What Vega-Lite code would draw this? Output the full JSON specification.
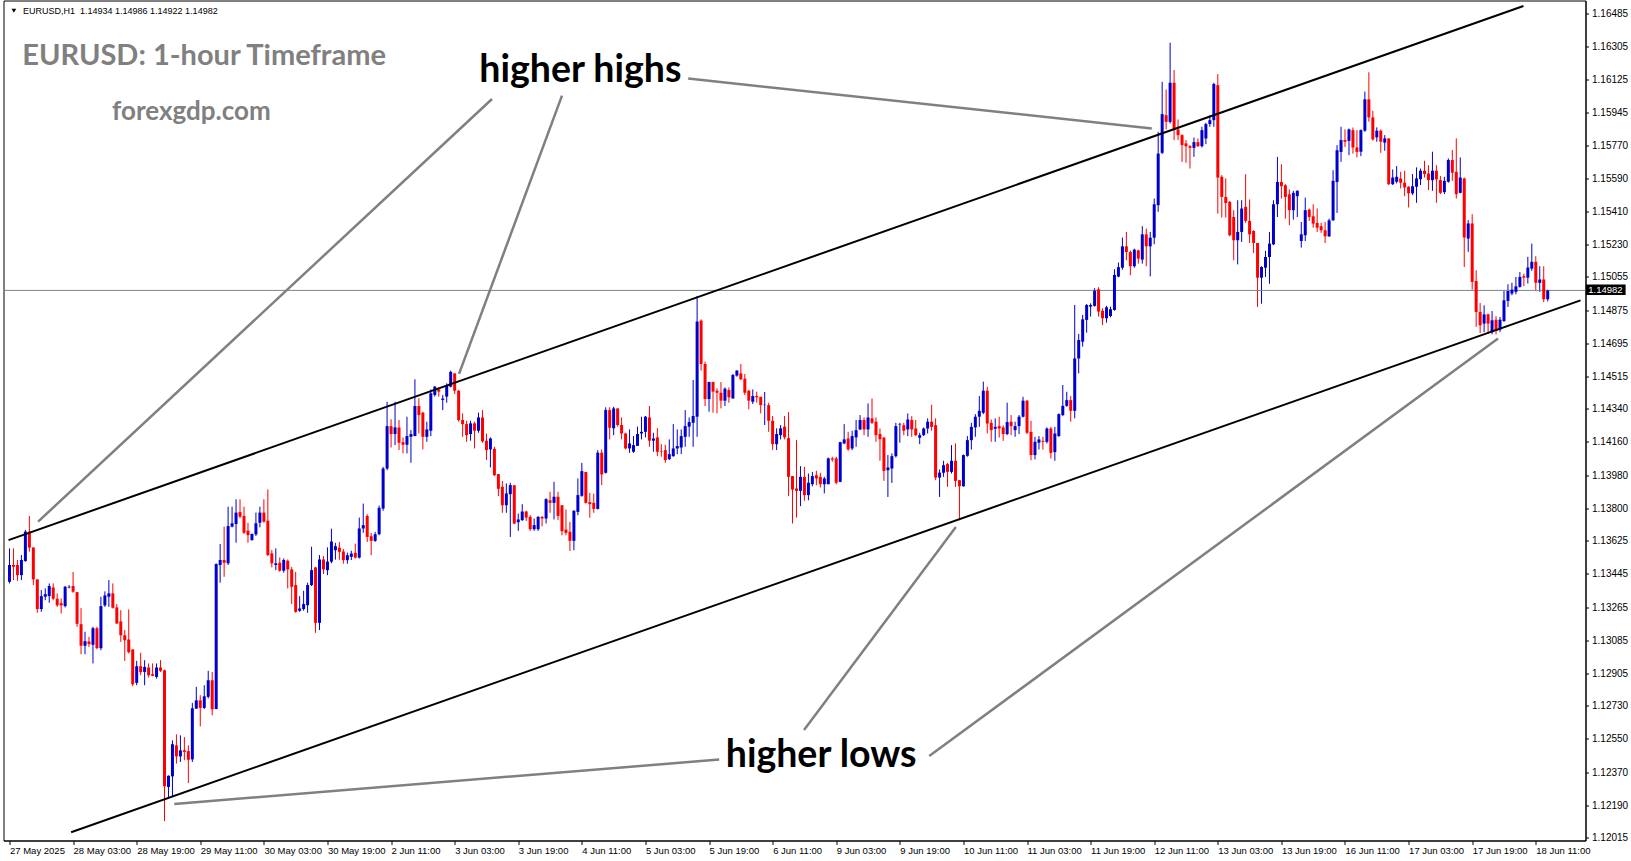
{
"$schema":"https://vega.github.io/schema/vega-lite/v6.json",
"width":1582,"height":840,
"padding":{"left":2.5,"top":0.5,"right":0,"bottom":0},
"background":"white",
"config":{"view":{"stroke":"#000000","strokeWidth":1},"axis":{"grid":false}},
"datasets":{
"candles":[
{"i":0,"o":1.13402,"h":1.13583,"l":1.13393,"c":1.13493},
{"i":1,"o":1.13493,"h":1.13583,"l":1.13411,"c":1.13483},
{"i":2,"o":1.13493,"h":1.13520,"l":1.13407,"c":1.13438},
{"i":3,"o":1.13438,"h":1.13547,"l":1.13411,"c":1.13520},
{"i":4,"o":1.13514,"h":1.13683,"l":1.13511,"c":1.13674},
{"i":5,"o":1.13674,"h":1.13759,"l":1.13565,"c":1.13587},
{"i":6,"o":1.13588,"h":1.13588,"l":1.13384,"c":1.13415},
{"i":7,"o":1.13415,"h":1.13415,"l":1.13234,"c":1.13254},
{"i":8,"o":1.13254,"h":1.13357,"l":1.13239,"c":1.13324},
{"i":9,"o":1.13321,"h":1.13366,"l":1.13302,"c":1.13335},
{"i":10,"o":1.13324,"h":1.13393,"l":1.13288,"c":1.13379},
{"i":11,"o":1.13371,"h":1.13393,"l":1.13302,"c":1.13310},
{"i":12,"o":1.13310,"h":1.13339,"l":1.13266,"c":1.13274},
{"i":13,"o":1.13286,"h":1.13312,"l":1.13230,"c":1.13274},
{"i":14,"o":1.13270,"h":1.13379,"l":1.13263,"c":1.13375},
{"i":15,"o":1.13371,"h":1.13384,"l":1.13366,"c":1.13375},
{"i":16,"o":1.13379,"h":1.13455,"l":1.13342,"c":1.13348},
{"i":17,"o":1.13346,"h":1.13346,"l":1.13158,"c":1.13174},
{"i":18,"o":1.13172,"h":1.13259,"l":1.13009,"c":1.13055},
{"i":19,"o":1.13055,"h":1.13131,"l":1.13009,"c":1.13080},
{"i":20,"o":1.13078,"h":1.13103,"l":1.13049,"c":1.13064},
{"i":21,"o":1.13060,"h":1.13158,"l":1.12959,"c":1.13150},
{"i":22,"o":1.13150,"h":1.13158,"l":1.13036,"c":1.13042},
{"i":23,"o":1.13042,"h":1.13321,"l":1.13031,"c":1.13270},
{"i":24,"o":1.13274,"h":1.13350,"l":1.13266,"c":1.13328},
{"i":25,"o":1.13321,"h":1.13411,"l":1.13266,"c":1.13339},
{"i":26,"o":1.13339,"h":1.13393,"l":1.13257,"c":1.13261},
{"i":27,"o":1.13263,"h":1.13281,"l":1.13172,"c":1.13176},
{"i":28,"o":1.13187,"h":1.13248,"l":1.13076,"c":1.13112},
{"i":29,"o":1.13112,"h":1.13140,"l":1.12973,"c":1.13085},
{"i":30,"o":1.13089,"h":1.13252,"l":1.13013,"c":1.13020},
{"i":31,"o":1.13035,"h":1.13035,"l":1.12836,"c":1.12846},
{"i":32,"o":1.12854,"h":1.12973,"l":1.12841,"c":1.12944},
{"i":33,"o":1.12944,"h":1.13017,"l":1.12895,"c":1.12912},
{"i":34,"o":1.12913,"h":1.12977,"l":1.12841,"c":1.12940},
{"i":35,"o":1.12937,"h":1.12959,"l":1.12883,"c":1.12895},
{"i":36,"o":1.12901,"h":1.12959,"l":1.12890,"c":1.12892},
{"i":37,"o":1.12886,"h":1.12959,"l":1.12877,"c":1.12937},
{"i":38,"o":1.12937,"h":1.12977,"l":1.12913,"c":1.12919},
{"i":39,"o":1.12922,"h":1.12926,"l":1.12104,"c":1.12293},
{"i":40,"o":1.12289,"h":1.12352,"l":1.12235,"c":1.12350},
{"i":41,"o":1.12347,"h":1.12542,"l":1.12235,"c":1.12521},
{"i":42,"o":1.12515,"h":1.12575,"l":1.12416,"c":1.12455},
{"i":43,"o":1.12455,"h":1.12569,"l":1.12425,"c":1.12488},
{"i":44,"o":1.12488,"h":1.12560,"l":1.12434,"c":1.12479},
{"i":45,"o":1.12484,"h":1.12515,"l":1.12311,"c":1.12437},
{"i":46,"o":1.12439,"h":1.12745,"l":1.12425,"c":1.12716},
{"i":47,"o":1.12714,"h":1.12832,"l":1.12714,"c":1.12759},
{"i":48,"o":1.12759,"h":1.12787,"l":1.12618,"c":1.12718},
{"i":49,"o":1.12718,"h":1.12841,"l":1.12712,"c":1.12781},
{"i":50,"o":1.12778,"h":1.12919,"l":1.12769,"c":1.12868},
{"i":51,"o":1.12868,"h":1.12913,"l":1.12678,"c":1.12711},
{"i":52,"o":1.12712,"h":1.13502,"l":1.12711,"c":1.13498},
{"i":53,"o":1.13493,"h":1.13607,"l":1.13397,"c":1.13520},
{"i":54,"o":1.13520,"h":1.13701,"l":1.13429,"c":1.13505},
{"i":55,"o":1.13502,"h":1.13809,"l":1.13493,"c":1.13704},
{"i":56,"o":1.13701,"h":1.13809,"l":1.13697,"c":1.13719},
{"i":57,"o":1.13715,"h":1.13849,"l":1.13614,"c":1.13777},
{"i":58,"o":1.13780,"h":1.13849,"l":1.13746,"c":1.13755},
{"i":59,"o":1.13759,"h":1.13809,"l":1.13661,"c":1.13668},
{"i":60,"o":1.13679,"h":1.13722,"l":1.13614,"c":1.13655},
{"i":61,"o":1.13628,"h":1.13664,"l":1.13625,"c":1.13661},
{"i":62,"o":1.13659,"h":1.13777,"l":1.13650,"c":1.13719},
{"i":63,"o":1.13722,"h":1.13809,"l":1.13697,"c":1.13777},
{"i":64,"o":1.13777,"h":1.13849,"l":1.13722,"c":1.13728},
{"i":65,"o":1.13733,"h":1.13903,"l":1.13541,"c":1.13547},
{"i":66,"o":1.13556,"h":1.13574,"l":1.13480,"c":1.13502},
{"i":67,"o":1.13493,"h":1.13583,"l":1.13465,"c":1.13502},
{"i":68,"o":1.13505,"h":1.13534,"l":1.13456,"c":1.13462},
{"i":69,"o":1.13462,"h":1.13529,"l":1.13451,"c":1.13520},
{"i":70,"o":1.13516,"h":1.13523,"l":1.13366,"c":1.13469},
{"i":71,"o":1.13469,"h":1.13483,"l":1.13281,"c":1.13375},
{"i":72,"o":1.13384,"h":1.13456,"l":1.13234,"c":1.13239},
{"i":73,"o":1.13245,"h":1.13324,"l":1.13239,"c":1.13257},
{"i":74,"o":1.13254,"h":1.13353,"l":1.13245,"c":1.13281},
{"i":75,"o":1.13275,"h":1.13397,"l":1.13234,"c":1.13384},
{"i":76,"o":1.13384,"h":1.13592,"l":1.13379,"c":1.13465},
{"i":77,"o":1.13480,"h":1.13483,"l":1.13125,"c":1.13179},
{"i":78,"o":1.13179,"h":1.13547,"l":1.13140,"c":1.13523},
{"i":79,"o":1.13523,"h":1.13541,"l":1.13444,"c":1.13469},
{"i":80,"o":1.13465,"h":1.13588,"l":1.13438,"c":1.13511},
{"i":81,"o":1.13511,"h":1.13690,"l":1.13502,"c":1.13620},
{"i":82,"o":1.13573,"h":1.13613,"l":1.13522,"c":1.13595},
{"i":83,"o":1.13587,"h":1.13618,"l":1.13522,"c":1.13564},
{"i":84,"o":1.13566,"h":1.13580,"l":1.13500,"c":1.13519},
{"i":85,"o":1.13519,"h":1.13560,"l":1.13500,"c":1.13546},
{"i":86,"o":1.13537,"h":1.13570,"l":1.13520,"c":1.13555},
{"i":87,"o":1.13559,"h":1.13609,"l":1.13528,"c":1.13533},
{"i":88,"o":1.13533,"h":1.13750,"l":1.13528,"c":1.13691},
{"i":89,"o":1.13691,"h":1.13826,"l":1.13667,"c":1.13709},
{"i":90,"o":1.13759,"h":1.13768,"l":1.13618,"c":1.13645},
{"i":91,"o":1.13649,"h":1.13667,"l":1.13546,"c":1.13624},
{"i":92,"o":1.13624,"h":1.13673,"l":1.13618,"c":1.13660},
{"i":93,"o":1.13660,"h":1.13815,"l":1.13654,"c":1.13803},
{"i":94,"o":1.13799,"h":1.14025,"l":1.13787,"c":1.14016},
{"i":95,"o":1.14016,"h":1.14378,"l":1.14007,"c":1.14246},
{"i":96,"o":1.14246,"h":1.14283,"l":1.14130,"c":1.14203},
{"i":97,"o":1.14203,"h":1.14378,"l":1.14143,"c":1.14239},
{"i":98,"o":1.14239,"h":1.14279,"l":1.14116,"c":1.14156},
{"i":99,"o":1.14159,"h":1.14185,"l":1.14098,"c":1.14145},
{"i":100,"o":1.14145,"h":1.14297,"l":1.14098,"c":1.14192},
{"i":101,"o":1.14188,"h":1.14225,"l":1.14047,"c":1.14203},
{"i":102,"o":1.14192,"h":1.14500,"l":1.14192,"c":1.14355},
{"i":103,"o":1.14355,"h":1.14397,"l":1.14206,"c":1.14306},
{"i":104,"o":1.14319,"h":1.14324,"l":1.14120,"c":1.14188},
{"i":105,"o":1.14188,"h":1.14270,"l":1.14161,"c":1.14228},
{"i":106,"o":1.14221,"h":1.14445,"l":1.14192,"c":1.14424},
{"i":107,"o":1.14415,"h":1.14464,"l":1.14406,"c":1.14460},
{"i":108,"o":1.14445,"h":1.14456,"l":1.14406,"c":1.14433},
{"i":109,"o":1.14388,"h":1.14415,"l":1.14333,"c":1.14395},
{"i":110,"o":1.14406,"h":1.14478,"l":1.14373,"c":1.14464},
{"i":111,"o":1.14460,"h":1.14547,"l":1.14456,"c":1.14540},
{"i":112,"o":1.14532,"h":1.14532,"l":1.14420,"c":1.14438},
{"i":113,"o":1.14438,"h":1.14442,"l":1.14270,"c":1.14279},
{"i":114,"o":1.14279,"h":1.14315,"l":1.14188,"c":1.14257},
{"i":115,"o":1.14257,"h":1.14275,"l":1.14161,"c":1.14197},
{"i":116,"o":1.14203,"h":1.14275,"l":1.14167,"c":1.14261},
{"i":117,"o":1.14261,"h":1.14270,"l":1.14125,"c":1.14221},
{"i":118,"o":1.14221,"h":1.14319,"l":1.14210,"c":1.14293},
{"i":119,"o":1.14293,"h":1.14333,"l":1.14156,"c":1.14163},
{"i":120,"o":1.14167,"h":1.14206,"l":1.14062,"c":1.14116},
{"i":121,"o":1.14120,"h":1.14185,"l":1.14022,"c":1.14179},
{"i":122,"o":1.14123,"h":1.14134,"l":1.13975,"c":1.13980},
{"i":123,"o":1.13986,"h":1.13986,"l":1.13866,"c":1.13906},
{"i":124,"o":1.13917,"h":1.13949,"l":1.13776,"c":1.13817},
{"i":125,"o":1.13817,"h":1.13935,"l":1.13776,"c":1.13881},
{"i":126,"o":1.13877,"h":1.13939,"l":1.13645,"c":1.13926},
{"i":127,"o":1.13926,"h":1.13926,"l":1.13714,"c":1.13718},
{"i":128,"o":1.13725,"h":1.13772,"l":1.13678,"c":1.13740},
{"i":129,"o":1.13736,"h":1.13823,"l":1.13732,"c":1.13783},
{"i":130,"o":1.13783,"h":1.13787,"l":1.13732,"c":1.13750},
{"i":131,"o":1.13754,"h":1.13763,"l":1.13678,"c":1.13687},
{"i":132,"o":1.13687,"h":1.13745,"l":1.13678,"c":1.13709},
{"i":133,"o":1.13687,"h":1.13758,"l":1.13678,"c":1.13754},
{"i":134,"o":1.13754,"h":1.13758,"l":1.13703,"c":1.13745},
{"i":135,"o":1.13745,"h":1.13855,"l":1.13718,"c":1.13850},
{"i":136,"o":1.13844,"h":1.13890,"l":1.13776,"c":1.13830},
{"i":137,"o":1.13830,"h":1.13944,"l":1.13740,"c":1.13863},
{"i":138,"o":1.13863,"h":1.13890,"l":1.13736,"c":1.13759},
{"i":139,"o":1.13817,"h":1.13817,"l":1.13654,"c":1.13676},
{"i":140,"o":1.13685,"h":1.13794,"l":1.13654,"c":1.13667},
{"i":141,"o":1.13673,"h":1.13727,"l":1.13569,"c":1.13624},
{"i":142,"o":1.13624,"h":1.13790,"l":1.13573,"c":1.13787},
{"i":143,"o":1.13781,"h":1.13962,"l":1.13763,"c":1.13872},
{"i":144,"o":1.13868,"h":1.14047,"l":1.13863,"c":1.14002},
{"i":145,"o":1.13997,"h":1.13998,"l":1.13826,"c":1.13830},
{"i":146,"o":1.13834,"h":1.13884,"l":1.13749,"c":1.13823},
{"i":147,"o":1.13830,"h":1.13880,"l":1.13776,"c":1.13797},
{"i":148,"o":1.13797,"h":1.14116,"l":1.13794,"c":1.14102},
{"i":149,"o":1.14102,"h":1.14120,"l":1.13926,"c":1.13984},
{"i":150,"o":1.13993,"h":1.14348,"l":1.13989,"c":1.14333},
{"i":151,"o":1.14333,"h":1.14348,"l":1.14174,"c":1.14237},
{"i":152,"o":1.14234,"h":1.14351,"l":1.14197,"c":1.14342},
{"i":153,"o":1.14342,"h":1.14342,"l":1.14243,"c":1.14252},
{"i":154,"o":1.14252,"h":1.14293,"l":1.14174,"c":1.14206},
{"i":155,"o":1.14206,"h":1.14210,"l":1.14120,"c":1.14125},
{"i":156,"o":1.14125,"h":1.14228,"l":1.14101,"c":1.14152},
{"i":157,"o":1.14107,"h":1.14192,"l":1.14101,"c":1.14143},
{"i":158,"o":1.14139,"h":1.14243,"l":1.14138,"c":1.14203},
{"i":159,"o":1.14206,"h":1.14297,"l":1.14174,"c":1.14215},
{"i":160,"o":1.14215,"h":1.14301,"l":1.14185,"c":1.14297},
{"i":161,"o":1.14293,"h":1.14355,"l":1.14134,"c":1.14167},
{"i":162,"o":1.14167,"h":1.14210,"l":1.14107,"c":1.14179},
{"i":163,"o":1.14185,"h":1.14235,"l":1.14083,"c":1.14107},
{"i":164,"o":1.14110,"h":1.14148,"l":1.14080,"c":1.14107},
{"i":165,"o":1.14116,"h":1.14145,"l":1.14047,"c":1.14062},
{"i":166,"o":1.14067,"h":1.14174,"l":1.14062,"c":1.14094},
{"i":167,"o":1.14083,"h":1.14257,"l":1.14080,"c":1.14125},
{"i":168,"o":1.14125,"h":1.14228,"l":1.14094,"c":1.14138},
{"i":169,"o":1.14130,"h":1.14228,"l":1.14094,"c":1.14192},
{"i":170,"o":1.14188,"h":1.14333,"l":1.14134,"c":1.14246},
{"i":171,"o":1.14243,"h":1.14293,"l":1.14188,"c":1.14268},
{"i":172,"o":1.14264,"h":1.14496,"l":1.14134,"c":1.14301},
{"i":173,"o":1.14297,"h":1.14952,"l":1.14188,"c":1.14813},
{"i":174,"o":1.14818,"h":1.14825,"l":1.14547,"c":1.14583},
{"i":175,"o":1.14583,"h":1.14596,"l":1.14355,"c":1.14393},
{"i":176,"o":1.14393,"h":1.14487,"l":1.14324,"c":1.14485},
{"i":177,"o":1.14485,"h":1.14487,"l":1.14319,"c":1.14433},
{"i":178,"o":1.14438,"h":1.14451,"l":1.14315,"c":1.14427},
{"i":179,"o":1.14427,"h":1.14485,"l":1.14342,"c":1.14384},
{"i":180,"o":1.14384,"h":1.14456,"l":1.14355,"c":1.14449},
{"i":181,"o":1.14442,"h":1.14456,"l":1.14373,"c":1.14402},
{"i":182,"o":1.14396,"h":1.14529,"l":1.14395,"c":1.14523},
{"i":183,"o":1.14520,"h":1.14550,"l":1.14514,"c":1.14547},
{"i":184,"o":1.14532,"h":1.14583,"l":1.14496,"c":1.14500},
{"i":185,"o":1.14503,"h":1.14529,"l":1.14415,"c":1.14427},
{"i":186,"o":1.14438,"h":1.14442,"l":1.14337,"c":1.14384},
{"i":187,"o":1.14378,"h":1.14445,"l":1.14366,"c":1.14409},
{"i":188,"o":1.14409,"h":1.14433,"l":1.14373,"c":1.14402},
{"i":189,"o":1.14405,"h":1.14405,"l":1.14315,"c":1.14360},
{"i":190,"o":1.14360,"h":1.14431,"l":1.14252,"c":1.14362},
{"i":191,"o":1.14360,"h":1.14373,"l":1.14215,"c":1.14275},
{"i":192,"o":1.14275,"h":1.14301,"l":1.14116,"c":1.14148},
{"i":193,"o":1.14148,"h":1.14234,"l":1.14116,"c":1.14203},
{"i":194,"o":1.14197,"h":1.14252,"l":1.14174,"c":1.14234},
{"i":195,"o":1.14243,"h":1.14301,"l":1.14174,"c":1.14185},
{"i":196,"o":1.14181,"h":1.14322,"l":1.13866,"c":1.13971},
{"i":197,"o":1.13975,"h":1.13975,"l":1.13718,"c":1.13902},
{"i":198,"o":1.13908,"h":1.14170,"l":1.13750,"c":1.13895},
{"i":199,"o":1.13895,"h":1.14029,"l":1.13812,"c":1.13971},
{"i":200,"o":1.13971,"h":1.14025,"l":1.13841,"c":1.13872},
{"i":201,"o":1.13872,"h":1.13989,"l":1.13844,"c":1.13939},
{"i":202,"o":1.13931,"h":1.13998,"l":1.13920,"c":1.13975},
{"i":203,"o":1.13980,"h":1.14004,"l":1.13926,"c":1.13962},
{"i":204,"o":1.13971,"h":1.13993,"l":1.13913,"c":1.13931},
{"i":205,"o":1.13931,"h":1.13971,"l":1.13881,"c":1.13962},
{"i":206,"o":1.13931,"h":1.14076,"l":1.13931,"c":1.14071},
{"i":207,"o":1.14071,"h":1.14080,"l":1.14053,"c":1.14065},
{"i":208,"o":1.14071,"h":1.14080,"l":1.13931,"c":1.13939},
{"i":209,"o":1.13944,"h":1.14161,"l":1.13942,"c":1.14159},
{"i":210,"o":1.14152,"h":1.14257,"l":1.14148,"c":1.14174},
{"i":211,"o":1.14179,"h":1.14215,"l":1.14112,"c":1.14120},
{"i":212,"o":1.14125,"h":1.14221,"l":1.14116,"c":1.14192},
{"i":213,"o":1.14185,"h":1.14279,"l":1.14134,"c":1.14224},
{"i":214,"o":1.14228,"h":1.14306,"l":1.14224,"c":1.14279},
{"i":215,"o":1.14279,"h":1.14293,"l":1.14197,"c":1.14228},
{"i":216,"o":1.14228,"h":1.14369,"l":1.14188,"c":1.14293},
{"i":217,"o":1.14288,"h":1.14396,"l":1.14257,"c":1.14264},
{"i":218,"o":1.14270,"h":1.14293,"l":1.14161,"c":1.14197},
{"i":219,"o":1.14203,"h":1.14233,"l":1.14058,"c":1.14175},
{"i":220,"o":1.14183,"h":1.14188,"l":1.13949,"c":1.14003},
{"i":221,"o":1.14007,"h":1.14089,"l":1.13862,"c":1.14022},
{"i":222,"o":1.14016,"h":1.14098,"l":1.13938,"c":1.14083},
{"i":223,"o":1.14083,"h":1.14264,"l":1.14076,"c":1.14246},
{"i":224,"o":1.14255,"h":1.14264,"l":1.14156,"c":1.14258},
{"i":225,"o":1.14251,"h":1.14264,"l":1.14197,"c":1.14221},
{"i":226,"o":1.14228,"h":1.14315,"l":1.14192,"c":1.14282},
{"i":227,"o":1.14279,"h":1.14300,"l":1.14188,"c":1.14228},
{"i":228,"o":1.14233,"h":1.14279,"l":1.14192,"c":1.14197},
{"i":229,"o":1.14183,"h":1.14210,"l":1.14148,"c":1.14197},
{"i":230,"o":1.14197,"h":1.14239,"l":1.14192,"c":1.14233},
{"i":231,"o":1.14233,"h":1.14288,"l":1.14206,"c":1.14270},
{"i":232,"o":1.14270,"h":1.14362,"l":1.14221,"c":1.14242},
{"i":233,"o":1.14251,"h":1.14288,"l":1.13953,"c":1.13967},
{"i":234,"o":1.13967,"h":1.14011,"l":1.13862,"c":1.13994},
{"i":235,"o":1.13993,"h":1.14058,"l":1.13971,"c":1.14034},
{"i":236,"o":1.14040,"h":1.14047,"l":1.13917,"c":1.13998},
{"i":237,"o":1.13998,"h":1.14143,"l":1.13989,"c":1.14058},
{"i":238,"o":1.14058,"h":1.14152,"l":1.13917,"c":1.13949},
{"i":239,"o":1.13953,"h":1.13953,"l":1.13736,"c":1.13920},
{"i":240,"o":1.13920,"h":1.14092,"l":1.13917,"c":1.14089},
{"i":241,"o":1.14085,"h":1.14192,"l":1.14080,"c":1.14170},
{"i":242,"o":1.14170,"h":1.14264,"l":1.14119,"c":1.14242},
{"i":243,"o":1.14239,"h":1.14311,"l":1.14188,"c":1.14297},
{"i":244,"o":1.14297,"h":1.14409,"l":1.14242,"c":1.14329},
{"i":245,"o":1.14318,"h":1.14487,"l":1.14311,"c":1.14438},
{"i":246,"o":1.14438,"h":1.14460,"l":1.14206,"c":1.14260},
{"i":247,"o":1.14264,"h":1.14282,"l":1.14161,"c":1.14224},
{"i":248,"o":1.14232,"h":1.14288,"l":1.14161,"c":1.14242},
{"i":249,"o":1.14246,"h":1.14297,"l":1.14184,"c":1.14233},
{"i":250,"o":1.14239,"h":1.14250,"l":1.14166,"c":1.14203},
{"i":251,"o":1.14203,"h":1.14373,"l":1.14197,"c":1.14268},
{"i":252,"o":1.14270,"h":1.14306,"l":1.14197,"c":1.14246},
{"i":253,"o":1.14224,"h":1.14270,"l":1.14188,"c":1.14246},
{"i":254,"o":1.14246,"h":1.14306,"l":1.14203,"c":1.14297},
{"i":255,"o":1.14297,"h":1.14405,"l":1.14293,"c":1.14384},
{"i":256,"o":1.14384,"h":1.14387,"l":1.14203,"c":1.14210},
{"i":257,"o":1.14215,"h":1.14275,"l":1.14061,"c":1.14089},
{"i":258,"o":1.14089,"h":1.14188,"l":1.14065,"c":1.14161},
{"i":259,"o":1.14156,"h":1.14192,"l":1.14119,"c":1.14174},
{"i":260,"o":1.14166,"h":1.14188,"l":1.14119,"c":1.14161},
{"i":261,"o":1.14161,"h":1.14239,"l":1.14152,"c":1.14233},
{"i":262,"o":1.14233,"h":1.14242,"l":1.14070,"c":1.14101},
{"i":263,"o":1.14105,"h":1.14242,"l":1.14058,"c":1.14206},
{"i":264,"o":1.14192,"h":1.14315,"l":1.14188,"c":1.14311},
{"i":265,"o":1.14306,"h":1.14469,"l":1.14300,"c":1.14356},
{"i":266,"o":1.14356,"h":1.14432,"l":1.14351,"c":1.14387},
{"i":267,"o":1.14387,"h":1.14409,"l":1.14270,"c":1.14329},
{"i":268,"o":1.14329,"h":1.14903,"l":1.14288,"c":1.14613},
{"i":269,"o":1.14613,"h":1.14746,"l":1.14532,"c":1.14713},
{"i":270,"o":1.14704,"h":1.14849,"l":1.14677,"c":1.14825},
{"i":271,"o":1.14822,"h":1.14908,"l":1.14753,"c":1.14903},
{"i":272,"o":1.14894,"h":1.14912,"l":1.14840,"c":1.14903},
{"i":273,"o":1.14898,"h":1.14994,"l":1.14894,"c":1.14981},
{"i":274,"o":1.14988,"h":1.14999,"l":1.14840,"c":1.14867},
{"i":275,"o":1.14872,"h":1.14885,"l":1.14794,"c":1.14831},
{"i":276,"o":1.14831,"h":1.14898,"l":1.14807,"c":1.14890},
{"i":277,"o":1.14843,"h":1.14894,"l":1.14836,"c":1.14880},
{"i":278,"o":1.14876,"h":1.15097,"l":1.14872,"c":1.15066},
{"i":279,"o":1.15057,"h":1.15133,"l":1.15053,"c":1.15108},
{"i":280,"o":1.15105,"h":1.15268,"l":1.15094,"c":1.15221},
{"i":281,"o":1.15221,"h":1.15299,"l":1.15145,"c":1.15190},
{"i":282,"o":1.15190,"h":1.15199,"l":1.15064,"c":1.15113},
{"i":283,"o":1.15113,"h":1.15208,"l":1.15105,"c":1.15203},
{"i":284,"o":1.15199,"h":1.15203,"l":1.15127,"c":1.15154},
{"i":285,"o":1.15149,"h":1.15330,"l":1.15127,"c":1.15286},
{"i":286,"o":1.15286,"h":1.15317,"l":1.15113,"c":1.15221},
{"i":287,"o":1.15221,"h":1.15299,"l":1.15058,"c":1.15268},
{"i":288,"o":1.15268,"h":1.15480,"l":1.15232,"c":1.15449},
{"i":289,"o":1.15444,"h":1.15842,"l":1.15408,"c":1.15724},
{"i":290,"o":1.15728,"h":1.16113,"l":1.15721,"c":1.15938},
{"i":291,"o":1.15932,"h":1.16072,"l":1.15855,"c":1.15896},
{"i":292,"o":1.15896,"h":1.16325,"l":1.15887,"c":1.16108},
{"i":293,"o":1.16108,"h":1.16177,"l":1.15797,"c":1.15855},
{"i":294,"o":1.15855,"h":1.15909,"l":1.15797,"c":1.15824},
{"i":295,"o":1.15824,"h":1.15829,"l":1.15679,"c":1.15770},
{"i":296,"o":1.15779,"h":1.15797,"l":1.15674,"c":1.15764},
{"i":297,"o":1.15764,"h":1.15770,"l":1.15643,"c":1.15755},
{"i":298,"o":1.15755,"h":1.15811,"l":1.15706,"c":1.15786},
{"i":299,"o":1.15786,"h":1.15806,"l":1.15760,"c":1.15764},
{"i":300,"o":1.15764,"h":1.15869,"l":1.15757,"c":1.15851},
{"i":301,"o":1.15806,"h":1.15891,"l":1.15775,"c":1.15884},
{"i":302,"o":1.15884,"h":1.15932,"l":1.15869,"c":1.15905},
{"i":303,"o":1.15905,"h":1.16108,"l":1.15869,"c":1.16101},
{"i":304,"o":1.16095,"h":1.16155,"l":1.15398,"c":1.15594},
{"i":305,"o":1.15598,"h":1.15607,"l":1.15377,"c":1.15489},
{"i":306,"o":1.15489,"h":1.15589,"l":1.15377,"c":1.15456},
{"i":307,"o":1.15462,"h":1.15467,"l":1.15275,"c":1.15281},
{"i":308,"o":1.15380,"h":1.15417,"l":1.15145,"c":1.15254},
{"i":309,"o":1.15254,"h":1.15471,"l":1.15123,"c":1.15299},
{"i":310,"o":1.15299,"h":1.15471,"l":1.15245,"c":1.15426},
{"i":311,"o":1.15435,"h":1.15612,"l":1.15348,"c":1.15359},
{"i":312,"o":1.15359,"h":1.15475,"l":1.15239,"c":1.15286},
{"i":313,"o":1.15304,"h":1.15308,"l":1.15185,"c":1.15239},
{"i":314,"o":1.15239,"h":1.15239,"l":1.14892,"c":1.15051},
{"i":315,"o":1.15051,"h":1.15113,"l":1.14910,"c":1.15109},
{"i":316,"o":1.15105,"h":1.15196,"l":1.15055,"c":1.15163},
{"i":317,"o":1.15163,"h":1.15299,"l":1.15018,"c":1.15236},
{"i":318,"o":1.15232,"h":1.15471,"l":1.15227,"c":1.15449},
{"i":319,"o":1.15449,"h":1.15706,"l":1.15380,"c":1.15570},
{"i":320,"o":1.15570,"h":1.15666,"l":1.15480,"c":1.15547},
{"i":321,"o":1.15552,"h":1.15558,"l":1.15371,"c":1.15489},
{"i":322,"o":1.15503,"h":1.15529,"l":1.15335,"c":1.15417},
{"i":323,"o":1.15417,"h":1.15522,"l":1.15366,"c":1.15511},
{"i":324,"o":1.15493,"h":1.15525,"l":1.15380,"c":1.15522},
{"i":325,"o":1.15250,"h":1.15353,"l":1.15214,"c":1.15286},
{"i":326,"o":1.15281,"h":1.15485,"l":1.15250,"c":1.15417},
{"i":327,"o":1.15420,"h":1.15426,"l":1.15359,"c":1.15380},
{"i":328,"o":1.15384,"h":1.15449,"l":1.15322,"c":1.15344},
{"i":329,"o":1.15348,"h":1.15426,"l":1.15299,"c":1.15322},
{"i":330,"o":1.15330,"h":1.15348,"l":1.15294,"c":1.15308},
{"i":331,"o":1.15308,"h":1.15353,"l":1.15239,"c":1.15275},
{"i":332,"o":1.15275,"h":1.15371,"l":1.15272,"c":1.15362},
{"i":333,"o":1.15362,"h":1.15634,"l":1.15359,"c":1.15576},
{"i":334,"o":1.15570,"h":1.15770,"l":1.15402,"c":1.15742},
{"i":335,"o":1.15733,"h":1.15869,"l":1.15679,"c":1.15797},
{"i":336,"o":1.15797,"h":1.15855,"l":1.15760,"c":1.15788},
{"i":337,"o":1.15793,"h":1.15860,"l":1.15715,"c":1.15855},
{"i":338,"o":1.15851,"h":1.15865,"l":1.15724,"c":1.15757},
{"i":339,"o":1.15757,"h":1.15851,"l":1.15703,"c":1.15733},
{"i":340,"o":1.15734,"h":1.15855,"l":1.15710,"c":1.15851},
{"i":341,"o":1.15848,"h":1.16060,"l":1.15842,"c":1.16018},
{"i":342,"o":1.16018,"h":1.16165,"l":1.15897,"c":1.15920},
{"i":343,"o":1.15920,"h":1.15956,"l":1.15794,"c":1.15801},
{"i":344,"o":1.15812,"h":1.15866,"l":1.15788,"c":1.15848},
{"i":345,"o":1.15848,"h":1.15855,"l":1.15728,"c":1.15788},
{"i":346,"o":1.15783,"h":1.15824,"l":1.15739,"c":1.15806},
{"i":347,"o":1.15806,"h":1.15806,"l":1.15553,"c":1.15558},
{"i":348,"o":1.15558,"h":1.15638,"l":1.15553,"c":1.15594},
{"i":349,"o":1.15571,"h":1.15656,"l":1.15562,"c":1.15598},
{"i":350,"o":1.15589,"h":1.15625,"l":1.15535,"c":1.15566},
{"i":351,"o":1.15566,"h":1.15631,"l":1.15493,"c":1.15540},
{"i":352,"o":1.15544,"h":1.15547,"l":1.15432,"c":1.15508},
{"i":353,"o":1.15508,"h":1.15613,"l":1.15499,"c":1.15547},
{"i":354,"o":1.15544,"h":1.15649,"l":1.15457,"c":1.15589},
{"i":355,"o":1.15585,"h":1.15643,"l":1.15553,"c":1.15631},
{"i":356,"o":1.15631,"h":1.15685,"l":1.15594,"c":1.15613},
{"i":357,"o":1.15616,"h":1.15661,"l":1.15526,"c":1.15580},
{"i":358,"o":1.15580,"h":1.15734,"l":1.15522,"c":1.15631},
{"i":359,"o":1.15631,"h":1.15661,"l":1.15457,"c":1.15584},
{"i":360,"o":1.15580,"h":1.15602,"l":1.15504,"c":1.15511},
{"i":361,"o":1.15515,"h":1.15598,"l":1.15504,"c":1.15576},
{"i":362,"o":1.15571,"h":1.15698,"l":1.15566,"c":1.15689},
{"i":363,"o":1.15689,"h":1.15743,"l":1.15576,"c":1.15620},
{"i":364,"o":1.15625,"h":1.15806,"l":1.15480,"c":1.15504},
{"i":365,"o":1.15511,"h":1.15703,"l":1.15508,"c":1.15594},
{"i":366,"o":1.15589,"h":1.15594,"l":1.15109,"c":1.15269},
{"i":367,"o":1.15263,"h":1.15363,"l":1.15191,"c":1.15345},
{"i":368,"o":1.15345,"h":1.15395,"l":1.14986,"c":1.15028},
{"i":369,"o":1.15033,"h":1.15091,"l":1.14784,"c":1.14865},
{"i":370,"o":1.14865,"h":1.14914,"l":1.14751,"c":1.14793},
{"i":371,"o":1.14802,"h":1.14901,"l":1.14756,"c":1.14852},
{"i":372,"o":1.14852,"h":1.14856,"l":1.14747,"c":1.14802},
{"i":373,"o":1.14756,"h":1.14870,"l":1.14744,"c":1.14820},
{"i":374,"o":1.14823,"h":1.14842,"l":1.14744,"c":1.14762},
{"i":375,"o":1.14769,"h":1.14838,"l":1.14756,"c":1.14823},
{"i":376,"o":1.14816,"h":1.14979,"l":1.14811,"c":1.14928},
{"i":377,"o":1.14925,"h":1.15015,"l":1.14892,"c":1.14979},
{"i":378,"o":1.14965,"h":1.15023,"l":1.14956,"c":1.14986},
{"i":379,"o":1.14974,"h":1.15055,"l":1.14961,"c":1.15004},
{"i":380,"o":1.15001,"h":1.15082,"l":1.14997,"c":1.15055},
{"i":381,"o":1.15059,"h":1.15073,"l":1.15005,"c":1.15051},
{"i":382,"o":1.15051,"h":1.15164,"l":1.15019,"c":1.15106},
{"i":383,"o":1.15100,"h":1.15236,"l":1.15088,"c":1.15137},
{"i":384,"o":1.15137,"h":1.15167,"l":1.14983,"c":1.15023},
{"i":385,"o":1.15023,"h":1.15113,"l":1.14974,"c":1.15041},
{"i":386,"o":1.15041,"h":1.15113,"l":1.14919,"c":1.14934},
{"i":387,"o":1.14934,"h":1.14986,"l":1.14922,"c":1.14982}
],
"lines":[
{"id":"upper","kind":"channel","i":-0.25,"p":1.13628},
{"id":"upper","kind":"channel","i":380.9,"p":1.16524},
{"id":"lower","kind":"channel","i":15.5,"p":1.12044},
{"id":"lower","kind":"channel","i":395.25,"p":1.14928},
{"id":"a","kind":"note","i":7.2,"p":1.13728},
{"id":"a","kind":"note","i":121.4,"p":1.16020},
{"id":"b","kind":"note","i":113.1,"p":1.14529},
{"id":"b","kind":"note","i":139.0,"p":1.16038},
{"id":"c","kind":"note","i":170.75,"p":1.16131},
{"id":"c","kind":"note","i":287.4,"p":1.15860},
{"id":"d","kind":"note","i":41.45,"p":1.12197},
{"id":"d","kind":"note","i":178.55,"p":1.12438},
{"id":"e","kind":"note","i":199.9,"p":1.12598},
{"id":"e","kind":"note","i":238.1,"p":1.13699},
{"id":"f","kind":"note","i":231.4,"p":1.12457},
{"id":"f","kind":"note","i":374.5,"p":1.14721}
]
},
"layer":[
{"data":{"name":"candles"},
 "mark":{"type":"rule","strokeWidth":1},
 "encoding":{
  "x":{"field":"i","type":"quantitative","title":null,"scale":{"domain":[-0.25,395.25],"nice":false,"zero":false},
   "axis":{"orient":"bottom","title":null,"tickCount":60,"values":[0,16,32,48,64,80,96,112,128,144,160,176,192,208,224,240,256,272,288,304,320,336,352,368,384],
    "labelExpr":"['27 May 2025','28 May 03:00','28 May 19:00','29 May 11:00','30 May 03:00','30 May 19:00','2 Jun 11:00','3 Jun 03:00','3 Jun 19:00','4 Jun 11:00','5 Jun 03:00','5 Jun 19:00','6 Jun 11:00','9 Jun 03:00','9 Jun 19:00','10 Jun 11:00','11 Jun 03:00','11 Jun 19:00','12 Jun 11:00','13 Jun 03:00','13 Jun 19:00','16 Jun 11:00','17 Jun 03:00','17 Jun 19:00','18 Jun 11:00'][round(datum.value/16)]",
    "labelFont":"Liberation Sans","labelFontSize":9.5,"labelColor":"#000000","tickColor":"#000000","domainColor":"#000000","tickSize":4,"labelAlign":"left","labelBaseline":"top","labelPadding":1,"labelOverlap":false,"labelFlush":false,"labelBound":false,"grid":false}},
  "y":{"field":"l","type":"quantitative","title":null,"scale":{"domain":[1.11999,1.16554],"nice":false,"zero":false},
   "axis":{"orient":"right","title":null,"tickCount":60,"values":[1.16485,1.16305,1.16125,1.15945,1.1577,1.1559,1.1541,1.1523,1.15055,1.14875,1.14695,1.14515,1.1434,1.1416,1.1398,1.138,1.13625,1.13445,1.13265,1.13085,1.12905,1.1273,1.1255,1.1237,1.1219,1.12015],
   "format":".5f","labelFont":"Liberation Sans","labelFontSize":10,"labelColor":"#000000","tickColor":"#000000","domainColor":"#000000","tickSize":3,"labelPadding":3,"labelOverlap":false,"labelFlush":false,"labelBound":false,"grid":false}},
  "y2":{"field":"h"},
  "color":{"condition":{"test":"datum.c >= datum.o","value":"#0000cd"},"value":"#ff0000"}}},
{"data":{"values":[{"p":1.14982}]},
 "mark":{"type":"rule","color":"#7d8590","strokeWidth":1},
 "encoding":{"y":{"field":"p","type":"quantitative","title":null}}},
{"data":{"name":"candles"},
 "mark":{"type":"bar","width":3},
 "encoding":{
  "x":{"field":"i","type":"quantitative","title":null},
  "y":{"field":"o","type":"quantitative","title":null},
  "y2":{"field":"c"},
  "color":{"condition":{"test":"datum.c >= datum.o","value":"#0000cd"},"value":"#ff0000"}}},
{"data":{"name":"lines"},
 "transform":[{"filter":"datum.kind == 'channel'"}],
 "mark":{"type":"line","color":"#000000","strokeWidth":2},
 "encoding":{"x":{"field":"i","type":"quantitative","title":null},"y":{"field":"p","type":"quantitative","title":null},"detail":{"field":"id"}}},
{"data":{"name":"lines"},
 "transform":[{"filter":"datum.kind == 'note'"}],
 "mark":{"type":"line","color":"#808080","strokeWidth":2.5},
 "encoding":{"x":{"field":"i","type":"quantitative","title":null},"y":{"field":"p","type":"quantitative","title":null},"detail":{"field":"id"}}},
{"data":{"values":[{"x1":396.6,"x2":406.6,"y1":1.15014,"y2":1.14957}]},
 "mark":{"type":"rect","color":"#000000"},
 "encoding":{"x":{"field":"x1","type":"quantitative","title":null},"x2":{"field":"x2"},"y":{"field":"y1","type":"quantitative","title":null},"y2":{"field":"y2"}}},
{"data":{"values":[{"i":397.2,"p":1.14982,"t":"1.14982"}]},
 "mark":{"type":"text","color":"#ffffff","align":"left","baseline":"middle","font":"Liberation Sans","fontSize":9.5},
 "encoding":{"x":{"field":"i","type":"quantitative","title":null},"y":{"field":"p","type":"quantitative","title":null},"text":{"field":"t"}}},
{"data":{"values":[{"t":"EURUSD,H1\u00a0 1.14934 1.14986 1.14922 1.14982","i":3.4,"p":1.16481}]},
 "mark":{"type":"text","color":"#000000","align":"left","baseline":"alphabetic","font":"Liberation Sans","fontSize":9},
 "encoding":{"x":{"field":"i","type":"quantitative","title":null},"y":{"field":"p","type":"quantitative","title":null},"text":{"field":"t"}}},
{"data":{"values":[{"i":1.1,"p":1.16498}]},
 "mark":{"type":"point","shape":"triangle-down","filled":true,"color":"#000000","size":22,"opacity":1},
 "encoding":{"x":{"field":"i","type":"quantitative","title":null},"y":{"field":"p","type":"quantitative","title":null}}},
{"data":{"values":[{"t":"EURUSD: 1-hour Timeframe","i":3.2,"p":1.16204}]},
 "mark":{"type":"text","color":"#808080","align":"left","baseline":"alphabetic","font":"Lato","fontWeight":"bold","fontSize":29},
 "encoding":{"x":{"field":"i","type":"quantitative","title":null},"y":{"field":"p","type":"quantitative","title":null},"text":{"field":"t"}}},
{"data":{"values":[{"t":"forexgdp.com","i":25.8,"p":1.15906}]},
 "mark":{"type":"text","color":"#808080","align":"left","baseline":"alphabetic","font":"Lato","fontWeight":"bold","fontSize":26},
 "encoding":{"x":{"field":"i","type":"quantitative","title":null},"y":{"field":"p","type":"quantitative","title":null},"text":{"field":"t"}}},
{"data":{"values":[{"t":"higher highs","i":118.2,"p":1.16112},{"t":"higher lows","i":180.2,"p":1.12400}]},
 "mark":{"type":"text","color":"#000000","align":"left","baseline":"alphabetic","font":"Lato","fontWeight":"bold","fontSize":37.5},
 "encoding":{"x":{"field":"i","type":"quantitative","title":null},"y":{"field":"p","type":"quantitative","title":null},"text":{"field":"t"}}}
]
}
